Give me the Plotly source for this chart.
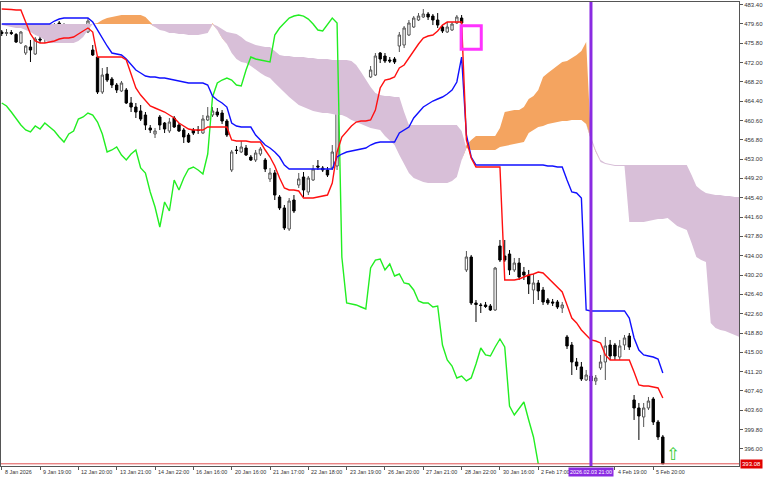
import numpy as np
import plotly.graph_objects as go

# ---------------- data ----------------
open_ = [
477.98, 477.68, 477.88, 477.49, 475.82, 473.85, 475.03, 473.65, 476.60, 476.80,
477.39, 478.37, 479.75, 477.98, 478.37, 478.18, 478.08, 477.78, 477.98, 474.44,
473.06, 466.18, 469.72, 468.74, 467.56, 466.38, 466.58, 464.02, 463.23, 462.45,
461.66, 459.11, 457.93, 461.27, 460.09, 458.52, 461.07, 459.69, 458.71, 457.73,
458.71, 458.71, 458.12, 460.68, 461.66, 462.25, 462.05, 460.48, 450.85, 454.78,
454.39, 455.17, 453.40, 452.81, 453.99, 452.81, 449.08, 450.26, 445.54, 443.38,
439.25, 444.95, 447.90, 449.47, 446.52, 448.88, 451.63, 451.24, 450.85, 451.24,
451.63, 464.61, 467.36, 468.15, 468.94, 469.13, 464.02, 469.13, 469.52, 473.85,
473.26, 472.47, 472.67, 475.23, 475.42, 477.39, 478.96, 480.34, 480.93, 481.52,
481.12, 480.34, 478.96, 477.98, 478.37, 479.75, 480.73, 431.19, 433.74, 424.70,
424.31, 424.31, 424.11, 423.32, 435.91, 433.94, 434.33, 431.19, 432.56, 430.79,
430.20, 427.26, 428.63, 427.26, 425.29, 424.90, 424.90, 423.72, 418.02, 416.44,
413.10, 412.12, 409.56, 410.35, 409.37, 411.92, 413.10, 416.44, 416.44, 414.08,
416.44, 418.21, 405.63, 404.06, 402.29, 404.06, 405.83, 401.30, 398.36]
high = [
478.37, 478.57, 478.37, 477.78, 478.18, 475.42, 476.41, 477.00, 477.78, 477.98,
478.77, 479.75, 480.14, 479.75, 479.35, 478.77, 478.57, 478.96, 480.73, 475.42,
473.26, 470.90, 471.10, 469.13, 467.95, 468.35, 466.97, 465.20, 464.02, 463.63,
462.25, 459.69, 459.11, 461.66, 460.28, 461.07, 461.46, 460.09, 459.11, 458.12,
459.11, 459.50, 461.66, 463.23, 463.23, 463.04, 462.64, 460.87, 454.78, 455.57,
456.55, 455.76, 453.80, 454.78, 455.37, 453.21, 451.24, 450.85, 445.93, 443.97,
445.34, 445.93, 450.26, 450.45, 449.67, 451.83, 452.81, 451.63, 451.44, 455.76,
465.00, 468.94, 468.94, 470.90, 469.52, 469.52, 467.56, 471.29, 473.85, 474.05,
473.85, 473.06, 473.06, 477.98, 479.16, 480.34, 481.12, 481.71, 482.50, 481.91,
481.52, 481.71, 479.35, 479.94, 479.94, 481.32, 481.32, 434.92, 434.14, 425.29,
424.70, 424.90, 424.50, 431.78, 437.09, 437.09, 435.12, 433.55, 433.55, 431.78,
431.19, 430.40, 429.22, 427.85, 425.68, 425.49, 425.29, 424.90, 418.41, 417.03,
413.89, 413.10, 411.53, 410.74, 410.54, 414.48, 418.02, 417.43, 416.84, 417.43,
418.41, 418.80, 406.61, 405.04, 405.04, 406.22, 406.22, 401.70, 398.75]
low = [
477.19, 477.19, 477.39, 475.82, 475.62, 473.46, 472.08, 473.46, 475.82, 475.82,
477.19, 478.18, 478.57, 477.78, 477.78, 477.78, 477.59, 477.59, 477.78, 473.26,
465.79, 465.79, 468.15, 466.97, 465.99, 466.18, 463.82, 462.25, 461.07, 460.48,
458.71, 458.12, 457.14, 458.71, 458.12, 458.12, 459.11, 458.32, 456.16, 456.16,
457.73, 457.93, 457.93, 460.48, 461.27, 461.27, 459.89, 457.34, 450.45, 453.99,
454.19, 453.60, 452.62, 452.42, 453.60, 450.45, 448.49, 444.95, 442.98, 439.05,
438.86, 442.39, 447.31, 445.54, 445.93, 448.69, 450.85, 450.45, 449.47, 450.85,
450.85, 464.22, 466.18, 467.56, 468.15, 467.56, 463.63, 468.94, 469.33, 471.88,
471.88, 471.88, 471.69, 474.05, 474.83, 477.19, 478.77, 480.14, 480.73, 480.34,
479.35, 478.77, 477.78, 477.78, 478.18, 479.55, 479.55, 430.79, 424.31, 420.96,
422.73, 423.72, 423.13, 423.13, 432.76, 432.76, 430.20, 430.79, 429.22, 429.22,
426.47, 424.50, 425.29, 424.31, 424.31, 424.11, 423.52, 422.73, 415.66, 410.54,
411.53, 409.37, 409.37, 408.97, 408.58, 411.53, 409.56, 413.49, 413.49, 413.49,
415.46, 415.46, 401.70, 397.77, 400.32, 403.66, 400.71, 397.77, 393.05]
close = [
477.68, 477.88, 477.68, 476.01, 477.98, 475.23, 474.44, 476.60, 476.41, 477.78,
478.57, 479.35, 478.96, 479.35, 478.18, 478.08, 478.18, 478.77, 480.14, 473.46,
466.18, 469.52, 468.54, 467.56, 466.58, 467.95, 464.02, 463.23, 462.25, 460.87,
459.69, 458.71, 458.52, 459.69, 458.91, 460.28, 459.30, 458.52, 457.34, 456.35,
458.12, 458.62, 460.87, 461.46, 462.45, 461.66, 460.48, 457.73, 454.39, 454.68,
455.37, 453.80, 452.81, 454.19, 454.98, 451.04, 450.26, 445.93, 443.38, 439.45,
444.75, 442.79, 449.08, 446.92, 449.27, 451.04, 451.44, 450.85, 449.86, 454.39,
464.61, 468.15, 467.76, 468.94, 468.74, 467.95, 466.97, 470.51, 473.26, 472.67,
472.28, 472.28, 472.08, 477.39, 478.77, 479.75, 480.73, 481.12, 481.52, 480.93,
480.34, 479.35, 478.18, 478.96, 479.55, 480.93, 479.75, 433.74, 424.70, 424.40,
424.21, 424.01, 423.32, 431.58, 433.15, 433.15, 431.19, 432.56, 429.81, 430.20,
428.44, 428.63, 427.06, 424.90, 424.70, 424.70, 423.91, 424.31, 416.25, 413.10,
412.31, 409.76, 410.54, 409.37, 409.96, 413.10, 416.25, 414.28, 414.28, 416.25,
417.82, 416.05, 404.06, 402.48, 404.06, 405.43, 401.30, 398.36, 393.08]

tenkan = [
482.50, 482.50, 482.40, 482.30, 482.30, 479.94, 477.59, 476.21, 475.82, 475.82,
476.01, 476.21, 476.60, 476.80, 476.80, 477.00, 477.59, 478.18, 478.77, 477.98,
473.06, 473.06, 473.06, 473.06, 473.06, 473.06, 472.47, 469.52, 466.97, 465.59,
464.41, 463.43, 463.04, 462.64, 462.25, 461.66, 461.07, 460.09, 459.50, 458.91,
458.71, 458.71, 458.71, 459.30, 459.30, 459.30, 459.30, 459.30, 456.75, 456.55,
456.55, 456.55, 456.35, 456.35, 456.35, 454.78, 453.40, 451.63, 449.27, 447.31,
446.92, 446.92, 446.72, 445.34, 445.34, 445.34, 445.54, 445.74, 445.93, 448.29,
454.39, 457.34, 458.52, 459.50, 460.28, 460.48, 460.48, 460.68, 462.64, 466.97,
468.54, 468.74, 469.13, 470.90, 471.49, 472.87, 474.44, 475.62, 476.80, 477.19,
477.39, 478.18, 479.35, 479.94, 479.94, 479.94, 479.94, 456.75, 453.21, 451.44,
451.44, 451.44, 451.44, 451.44, 451.44, 429.22, 429.22, 429.22, 429.42, 429.81,
430.20, 430.40, 430.79, 430.60, 429.62, 428.63, 427.65, 426.86, 424.31, 421.75,
420.77, 419.39, 418.41, 417.43, 417.23, 416.84, 414.48, 413.49, 413.49, 413.49,
413.49, 413.49, 411.14, 408.58, 408.38, 408.38, 408.19, 407.99, 406.02]
kijun = [
479.55, 479.55, 479.55, 479.55, 479.55, 479.55, 479.55, 479.55, 479.55, 479.55,
479.55, 480.14, 480.53, 480.73, 480.73, 480.73, 480.73, 480.73, 480.73, 479.94,
478.37, 476.60, 475.23, 473.85, 473.65, 473.46, 472.67, 471.49, 470.51, 469.92,
469.33, 469.13, 469.13, 468.94, 468.94, 468.74, 468.54, 468.35, 468.15, 467.95,
467.95, 467.95, 467.95, 467.56, 465.40, 464.61, 464.02, 463.23, 460.09, 459.50,
459.30, 459.30, 459.30, 457.73, 456.75, 455.76, 455.17, 454.39, 453.40, 451.83,
451.04, 451.04, 451.04, 451.04, 451.04, 451.04, 451.04, 451.04, 451.04, 451.04,
453.40, 453.99, 454.39, 454.58, 454.78, 454.98, 455.17, 455.76, 456.16, 456.35,
456.35, 456.35, 456.35, 458.12, 458.71, 459.30, 461.07, 462.25, 463.23, 463.82,
464.41, 464.81, 465.20, 465.79, 466.58, 468.15, 473.06, 457.73, 453.40, 451.83,
451.83, 451.83, 451.83, 451.83, 451.83, 451.83, 451.83, 451.83, 451.83, 451.83,
451.83, 451.83, 451.83, 451.83, 451.63, 451.63, 451.44, 451.44, 448.88, 446.52,
446.33, 445.34, 423.32, 423.13, 423.13, 423.13, 423.13, 423.13, 423.13, 423.13,
423.13, 421.75, 417.82, 415.46, 414.48, 414.28, 414.08, 413.69, 410.94]
chikou = [
464.02, 463.43, 462.25, 460.87, 459.69, 458.71, 458.32, 459.50, 458.91, 460.09,
459.30, 458.52, 457.34, 456.35, 457.93, 458.52, 460.87, 461.27, 462.05, 461.66,
460.28, 457.93, 454.39, 454.78, 455.37, 453.80, 452.81, 453.99, 454.78, 451.24,
450.26, 446.52, 443.57, 439.64, 444.56, 442.79, 448.88, 446.92, 449.27, 451.04,
451.44, 450.85, 450.06, 453.99, 465.20, 467.95, 468.54, 468.94, 468.54, 467.56,
467.36, 470.51, 473.06, 472.67, 472.47, 472.28, 472.08, 477.39, 478.77, 479.75,
480.73, 481.12, 481.32, 481.12, 480.53, 479.55, 478.37, 478.18, 479.35, 480.73,
479.75, 433.74, 424.70, 424.50, 424.31, 423.91, 423.52, 431.58, 433.15, 433.35,
431.19, 432.37, 430.01, 430.40, 428.63, 428.44, 427.26, 425.09, 424.70, 424.70,
423.91, 424.11, 416.44, 413.49, 412.31, 409.96, 410.35, 409.37, 409.96, 412.71,
415.85, 414.48, 414.28, 416.05, 417.62, 416.05, 404.45, 402.68, 404.06, 405.24,
401.70, 398.36, 393.08]
span_a = [
479.35, 479.16, 478.96, 478.77, 478.77, 478.37, 477.98, 477.39, 477.00, 476.41,
475.82, 475.82, 475.82, 475.82, 475.82, 475.82, 476.21, 477.00, 478.37, 479.55,
479.75, 480.34, 480.73, 480.93, 481.12, 481.32, 481.32, 481.32, 481.32, 481.32,
480.93, 479.94, 478.96, 478.37, 478.18, 477.78, 477.78, 477.59, 477.59, 477.39,
477.39, 477.39, 477.59, 477.78, 479.75, 478.37, 476.80, 475.62, 473.85, 472.67,
472.08, 471.88, 471.29, 470.51, 469.92, 469.33, 468.94, 467.95, 466.97, 466.18,
465.20, 464.41, 463.63, 463.23, 462.84, 462.45, 462.25, 462.05, 462.05, 461.86,
461.66, 461.66, 461.27, 460.68, 460.28, 459.89, 459.50, 459.11, 458.91, 458.71,
457.53, 456.55, 455.76, 453.80, 452.03, 450.26, 449.27, 448.88, 448.49, 448.29,
448.29, 448.29, 448.29, 448.29, 448.69, 449.47, 452.81, 455.76, 456.75, 457.53,
457.53, 457.53, 457.53, 457.53, 459.11, 462.25, 462.45, 462.64, 462.64, 463.23,
464.81, 465.40, 466.58, 469.13, 469.92, 470.70, 471.49, 472.08, 472.28, 472.87,
473.46, 474.24, 476.01, 456.75, 454.39, 452.42, 452.03, 451.83, 451.63, 451.63,
451.63, 440.62, 440.62, 440.62, 440.62, 440.82, 441.02, 441.21, 441.21, 441.41,
440.62, 439.84, 439.45, 439.05, 436.50, 433.74, 433.15, 432.76, 420.77, 419.79,
419.39, 419.20, 418.80, 418.41, 418.02]
span_b = [
479.55, 479.55, 479.55, 479.55, 479.55, 479.55, 479.55, 479.55, 479.55, 479.55,
479.55, 479.55, 479.55, 479.55, 479.55, 479.55, 479.55, 479.55, 479.55, 479.55,
479.55, 479.55, 479.55, 479.55, 479.55, 479.55, 479.55, 479.55, 479.55, 479.55,
479.55, 479.55, 479.55, 479.55, 479.55, 479.55, 479.55, 479.55, 479.55, 479.55,
479.55, 479.55, 479.55, 479.55, 479.55, 479.16, 478.57, 477.98, 477.78, 477.59,
477.00, 476.21, 475.82, 475.42, 475.23, 475.03, 475.03, 474.24, 473.46, 473.26,
473.26, 473.06, 473.06, 473.06, 472.87, 472.87, 472.67, 472.67, 472.67, 472.47,
472.47, 472.47, 472.47, 472.28, 471.49, 470.11, 468.54, 467.17, 465.99, 465.59,
465.40, 465.40, 465.20, 465.20, 462.25, 459.69, 459.69, 459.69, 459.69, 459.69,
459.69, 459.69, 459.69, 459.69, 459.69, 459.69, 458.52, 455.17, 454.78, 454.78,
454.78, 454.78, 454.78, 454.78, 455.37, 455.57, 455.76, 455.96, 456.16, 456.35,
458.12, 458.71, 459.30, 459.50, 459.89, 460.09, 460.28, 460.48, 460.48, 460.68,
460.68, 460.68, 459.89, 457.14, 454.78, 452.81, 452.22, 452.03, 451.83, 451.83,
451.83, 451.83, 451.83, 451.83, 451.83, 451.83, 451.83, 451.83, 451.83, 451.83,
451.83, 451.83, 451.83, 451.83, 449.86, 447.70, 446.92, 446.33, 446.13, 445.93,
445.93, 445.74, 445.74, 445.54, 445.54]

xtick_bars = [0, 8, 16, 24, 32, 40, 48, 56, 64, 72, 80, 88, 96, 104, 112, 128, 136]
xtick_labels = ["8 Jan 2026", "9 Jan 19:00", "12 Jan 20:00", "13 Jan 21:00", "14 Jan 22:00",
                "16 Jan 16:00", "20 Jan 16:00", "21 Jan 17:00", "22 Jan 18:00", "23 Jan 19:00",
                "26 Jan 20:00", "27 Jan 21:00", "28 Jan 22:00", "30 Jan 16:00", "2 Feb 17:00",
                "4 Feb 19:00", "5 Feb 20:00"]
ytick_vals = [483.40, 479.60, 475.80, 472.00, 468.20, 464.40, 460.60, 456.80, 453.00, 449.20,
              445.40, 441.60, 437.80, 434.00, 430.20, 426.40, 422.60, 418.80, 415.00, 411.20,
              407.40, 403.60, 399.80, 396.00]
bid_price = 393.08
cursor_bar = 123
cursor_label = "2026.02.03 21:00"
box_bars = (95.9, 100.1)
box_prices = (479.2, 474.6)
arrow_bar = 140.1
arrow_price = 395.0

# ---------------- figure ----------------
bars = list(range(len(close)))
cloud_bars = list(range(len(span_a)))
chikou_bars = list(range(len(chikou)))
a = np.array(span_a)
b = np.array(span_b)
lower = np.minimum(a, b)

fig = go.Figure()
nol = dict(width=0, color="rgba(0,0,0,0)")
fig.add_trace(go.Scatter(x=cloud_bars, y=lower, mode="lines", line=nol, hoverinfo="skip"))
fig.add_trace(go.Scatter(x=cloud_bars, y=a, mode="lines", line=nol,
                         fill="tonexty", fillcolor="#F4A460", hoverinfo="skip"))
fig.add_trace(go.Scatter(x=cloud_bars, y=lower, mode="lines", line=nol, hoverinfo="skip"))
fig.add_trace(go.Scatter(x=cloud_bars, y=b, mode="lines", line=nol,
                         fill="tonexty", fillcolor="#D8BFD8", hoverinfo="skip"))

fig.add_trace(go.Candlestick(
    x=bars, open=open_, high=high, low=low, close=close,
    increasing=dict(line=dict(color="#555555", width=1), fillcolor="#FFFFFF"),
    decreasing=dict(line=dict(color="#000000", width=1), fillcolor="#000000"),
    whiskerwidth=0, hoverinfo="skip"))

fig.add_trace(go.Scatter(x=chikou_bars, y=chikou, mode="lines", line=dict(color="#22EE22", width=1.4)))
fig.add_trace(go.Scatter(x=bars, y=kijun, mode="lines", line=dict(color="#1010FF", width=1.4)))
fig.add_trace(go.Scatter(x=bars, y=tenkan, mode="lines", line=dict(color="#FF1010", width=1.4)))

shapes = [
    dict(type="line", xref="paper", x0=0, x1=1, yref="y", y0=bid_price, y1=bid_price,
         line=dict(color="#E05050", width=1)),
    dict(type="line", xref="x", x0=cursor_bar, x1=cursor_bar, yref="paper", y0=0, y1=1,
         line=dict(color="#8A2BE2", width=3)),
    dict(type="rect", xref="x", x0=box_bars[0], x1=box_bars[1], yref="y",
         y0=box_prices[1], y1=box_prices[0], line=dict(color="#FF33FF", width=3)),
]

annotations = []
for bx, lab in zip(xtick_bars, xtick_labels):
    annotations.append(dict(x=bx, y=-0.013, xref="x", yref="paper", text=lab, showarrow=False,
                            xanchor="left", yanchor="middle", xshift=1,
                            font=dict(family="Liberation Sans", size=5.4, color="#333333")))
annotations.append(dict(x=cursor_bar, y=-0.014, xref="x", yref="paper", text=cursor_label,
                        showarrow=False, xanchor="center", yanchor="middle", bgcolor="#8A2BE2",
                        borderpad=1, font=dict(family="Liberation Sans", size=5.4, color="#FFFFFF")))
annotations.append(dict(x=1, y=bid_price, xref="paper", yref="y", text="%.2f" % bid_price,
                        showarrow=False, xanchor="left", yanchor="middle", xshift=1,
                        bgcolor="#E00000", borderpad=1,
                        font=dict(family="Liberation Sans", size=6, color="#FFFFFF")))
annotations.append(dict(x=arrow_bar, y=arrow_price, xref="x", yref="y", text="⇧", showarrow=False,
                        xanchor="center", yanchor="middle",
                        font=dict(family="DejaVu Sans", size=17, color="#33CC33")))

fig.update_layout(
    width=768, height=480,
    margin=dict(l=1, r=29, t=2, b=14, autoexpand=False),
    paper_bgcolor="white", plot_bgcolor="white",
    showlegend=False, hovermode=False,
    shapes=shapes, annotations=annotations,
    xaxis=dict(range=[-0.15, 153.9], showgrid=False, zeroline=False, showline=True, mirror=True,
               linecolor="#555555", linewidth=1, tickvals=xtick_bars, ticks="outside", ticklen=3,
               tickcolor="#555555", showticklabels=False, rangeslider=dict(visible=False),
               fixedrange=True),
    yaxis=dict(range=[392.65, 483.88], side="right", showgrid=False, zeroline=False, showline=True,
               mirror=True, linecolor="#555555", linewidth=1, tickvals=ytick_vals,
               ticktext=["%.2f" % v for v in ytick_vals], ticks="outside", ticklen=3,
               tickcolor="#555555", tickfont=dict(family="Liberation Sans", size=6, color="#333333"),
               fixedrange=True),
)

fig.write_html("out.html", config={"displayModeBar": False},
               post_script="document.body.style.margin='0';document.body.style.overflow='hidden';")
